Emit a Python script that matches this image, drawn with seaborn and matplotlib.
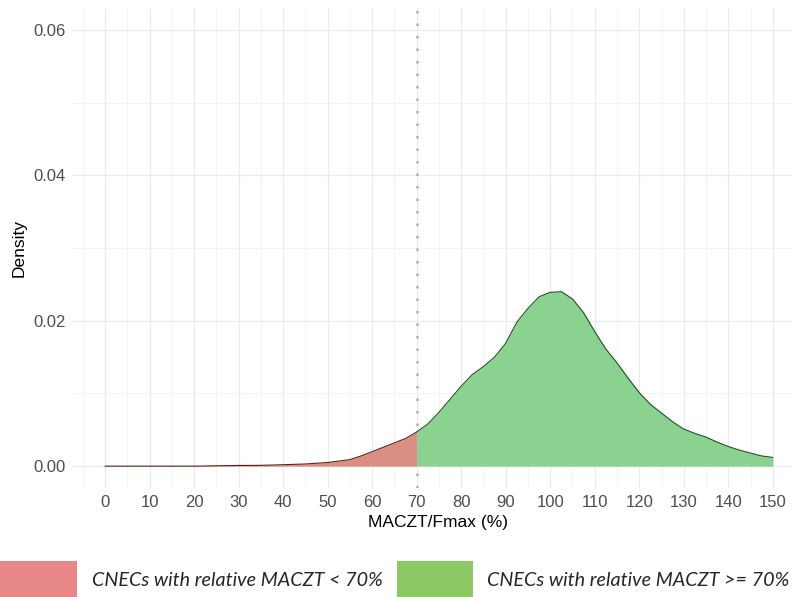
import numpy as np
import pandas as pd
import seaborn as sns
import matplotlib.pyplot as plt
from matplotlib.patches import Rectangle
from matplotlib.ticker import MultipleLocator

# density, every 2.5 percentage points
x_vals = np.arange(0, 150.1, 2.5)
density = [0.0000, 0.0000, 0.0000, 0.0000, 0.0000, 0.0000, 0.0000, 0.0000,
           0.0000, 0.00002, 0.00005, 0.00007, 0.0001, 0.0001, 0.00012, 0.00015,
           0.0002, 0.00025, 0.0003, 0.0004, 0.0005, 0.0007, 0.0009, 0.0014,
           0.0020, 0.0026, 0.0032, 0.0038, 0.0047, 0.0058, 0.0074, 0.0092,
           0.0110, 0.0126, 0.0137, 0.0150, 0.0169, 0.0198, 0.0217, 0.0233,
           0.0239, 0.0240, 0.0230, 0.0211, 0.0185, 0.0161, 0.0142, 0.0121,
           0.0101, 0.0085, 0.0073, 0.0061, 0.0051, 0.0045, 0.0040, 0.0033,
           0.0027, 0.0022, 0.0018, 0.0014, 0.0012]
threshold = 70
x_ticks = list(range(0, 151, 10))
y_ticks = [0.00, 0.02, 0.04, 0.06]
legend_labels = ["CNECs with relative MACZT < 70%", "CNECs with relative MACZT >= 70%"]

df = pd.DataFrame({"x": x_vals, "density": density})
low = df[df["x"] <= threshold]
high = df[df["x"] >= threshold]

sns.set_style("whitegrid")
plt.rcParams["font.family"] = ["Liberation Sans", "DejaVu Sans"]

fig = plt.figure(figsize=(7.92, 5.97), dpi=100)
ax = fig.add_axes([0.0904, 0.1826, 0.9096, 0.804])

ax.fill_between(low["x"], 0, low["density"], color="#db8f84", linewidth=0)
ax.fill_between(high["x"], 0, high["density"], color="#8bd18f", linewidth=0)
sns.lineplot(data=low, x="x", y="density", ax=ax, color="#5a1f1a", lw=0.8)
sns.lineplot(data=high, x="x", y="density", ax=ax, color="#1f4f24", lw=0.8)

ax.axvline(threshold, color="#b0b0b0", lw=1.8, linestyle=(0, (1, 4)), zorder=3)

ax.set_xlim(-7.5, 154.3)
ax.set_ylim(-0.003, 0.063)
ax.set_xticks(x_ticks)
ax.set_yticks(y_ticks)
ax.set_yticklabels([f"{v:.2f}" for v in y_ticks])
ax.xaxis.set_minor_locator(MultipleLocator(5))
ax.yaxis.set_minor_locator(MultipleLocator(0.01))
ax.grid(which="major", color="#ebebeb", lw=0.9)
ax.grid(which="minor", color="#f2f2f2", lw=0.6)
ax.set_axisbelow(True)
for s in ax.spines.values():
    s.set_visible(False)
ax.tick_params(axis="both", which="both", length=0, labelsize=12, colors="#4d4d4d", pad=4)
ax.tick_params(axis="x", pad=5)

ax.set_xlabel("MACZT/Fmax (%)", fontsize=12.5, color="black")
ax.set_ylabel("Density", fontsize=12.5, color="black")
ax.xaxis.set_label_coords(0.509, -0.057)
ax.yaxis.set_label_coords(-0.062, 0.5)

# legend strip below the plot
fig.patches.append(Rectangle((0, 0), 77 / 792, 36 / 597, transform=fig.transFigure,
                             color="#e88888", lw=0))
fig.patches.append(Rectangle((397 / 792, 0), 76 / 792, 36 / 597, transform=fig.transFigure,
                             color="#8cc864", lw=0))
fig.text(92 / 792, 1 - 580 / 597, legend_labels[0], fontsize=14.2, style="italic",
         family=["Lato", "DejaVu Sans"], va="center", ha="left")
fig.text(487 / 792, 1 - 580 / 597, legend_labels[1], fontsize=14.2, style="italic",
         family=["Lato", "DejaVu Sans"], va="center", ha="left")

fig.savefig("out.png", dpi=100)
